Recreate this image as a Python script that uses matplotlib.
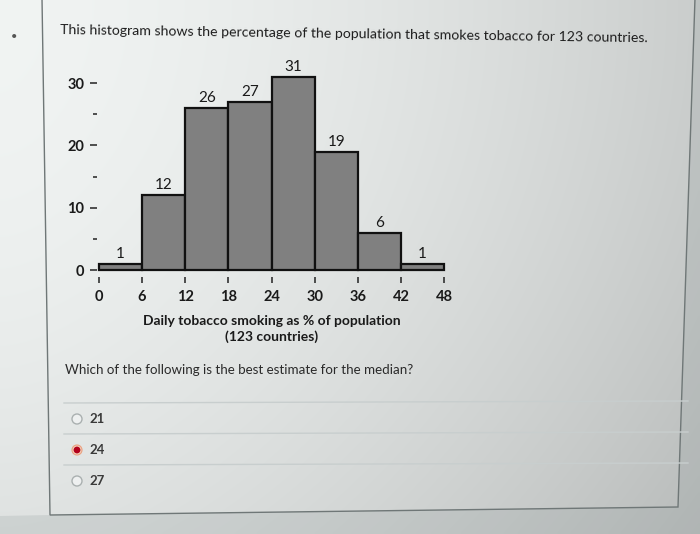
import numpy as np
import matplotlib
matplotlib.use("Agg")
import matplotlib.pyplot as plt
from matplotlib.patches import Polygon, Circle

# ---- data ----
bin_edges = [0, 6, 12, 18, 24, 30, 36, 42, 48]
counts = [1, 12, 26, 27, 31, 19, 6, 1]
y_major = [0, 10, 20, 30]
y_minor = [5, 15, 25]
title_text = "This histogram shows the percentage of the population that smokes tobacco for 123 countries."
xlabel_text = "Daily tobacco smoking as % of population\n(123 countries)"
question_text = "Which of the following is the best estimate for the median?"
options = ["21", "24", "27"]
selected = "24"

plt.rcParams['font.family'] = ['Lato', 'DejaVu Sans']

W, H = 700, 534
fig = plt.figure(figsize=(W / 100, H / 100), dpi=100)

# ---- background (photo of a screen) ----
bg = fig.add_axes([0, 0, 1, 1], zorder=0)
bg.set_xlim(0, W)
bg.set_ylim(H, 0)
bg.axis('off')
xx, yy = np.meshgrid(np.linspace(0, 1, 200), np.linspace(0, 1, 160))
v = 0.955 - 0.15 * xx ** 1.6 - 0.07 * yy ** 2
rgb = np.stack([v - 0.012, v, v - 0.004], axis=-1).clip(0, 1)
bg.imshow(rgb, extent=[0, W, H, 0], aspect='auto', interpolation='bilinear', zorder=0)
# outside area darker
outside = Polygon([[695, -2], [W, -2], [W, H], [0, H], [0, 516], [50, 515], [678, 507]],
                  closed=True, facecolor='#9aa4a4', alpha=0.25, edgecolor='none', zorder=1)
bg.add_patch(outside)
panel = Polygon([[42, -2], [50, 515], [678, 507], [695, -2]], closed=False,
                facecolor='none', edgecolor='#6f7777', lw=1.0, zorder=2)
bg.add_patch(panel)
bg.text(14, 36, "\u2022", fontsize=8, color='#555555', ha='center', va='center', zorder=3)

bg.text(60, 30, title_text, fontsize=10.2, color='#1e1e1e', ha='left', va='center',
        rotation=-0.8, rotation_mode='anchor', zorder=3)
bg.text(65, 370, question_text, fontsize=9.6, color='#2a2a2a', ha='left', va='center', zorder=3)

for ysep in [403, 434, 465]:
    bg.plot([64, 688], [ysep, ysep - 2], color='#c8cece', lw=1.0, zorder=2)

for i, opt in enumerate(options):
    yc = 419 + 31 * i
    if opt == selected:
        bg.add_patch(Circle((77, yc), 5.0, facecolor='#f3d2bc', edgecolor='#eaa080', lw=0.8, zorder=3))
        bg.add_patch(Circle((77, yc), 3.4, facecolor='#b3001b', edgecolor='none', zorder=4))
    else:
        bg.add_patch(Circle((77, yc), 5.0, facecolor='#eef0f0', edgecolor='#aab0b0', lw=1.0, zorder=3))
    bg.text(89, yc, opt, fontsize=9.5, fontweight='bold', color='#3a3a3a', ha='left', va='center', zorder=3)

# ---- histogram ----
x0, x1 = 99, 444
y0px, unit = 270, 6.23
ylim_top = 32
ax = fig.add_axes([x0 / W, 1 - y0px / H, (x1 - x0) / W, ylim_top * unit / H], zorder=2)
ax.patch.set_alpha(0)
lefts = bin_edges[:-1]
widths = np.diff(bin_edges)
bars = ax.bar(lefts, counts, width=widths, align='edge', color='#808080',
              edgecolor='#111111', linewidth=1.6, clip_on=False)
for b, c in zip(bars, counts):
    ax.annotate(str(c), (b.get_x() + b.get_width() / 2, c), xytext=(0, 2),
                textcoords='offset points', ha='center', va='bottom',
                fontsize=11, color='#1a1a1a')

ax.set_xlim(bin_edges[0], bin_edges[-1])
ax.set_ylim(0, ylim_top)
for s in ax.spines.values():
    s.set_visible(False)
ax.spines['left'].set_position(('outward', 1.5))
ax.spines['bottom'].set_position(('outward', 5))
ax.set_xticks(bin_edges)
ax.set_xticklabels([str(e) for e in bin_edges], fontweight='bold', fontsize=10.5, color='#1a1a1a')
ax.set_yticks(y_major)
ax.set_yticklabels([str(t) for t in y_major], fontweight='bold', fontsize=10.5, color='#1a1a1a')
ax.set_yticks(y_minor, minor=True)
ax.tick_params(axis='y', which='major', direction='out', length=5, width=1.1, pad=4, color='#222222')
ax.tick_params(axis='y', which='minor', direction='out', length=2.6, width=1.1, color='#222222')
ax.tick_params(axis='x', which='major', direction='out', length=4.3, width=1.1, pad=5, color='#222222')
ax.set_xlabel(xlabel_text, fontweight='bold', fontsize=10, color='#1a1a1a', labelpad=8,
              linespacing=1.3)

fig.savefig("out.png", dpi=100)
